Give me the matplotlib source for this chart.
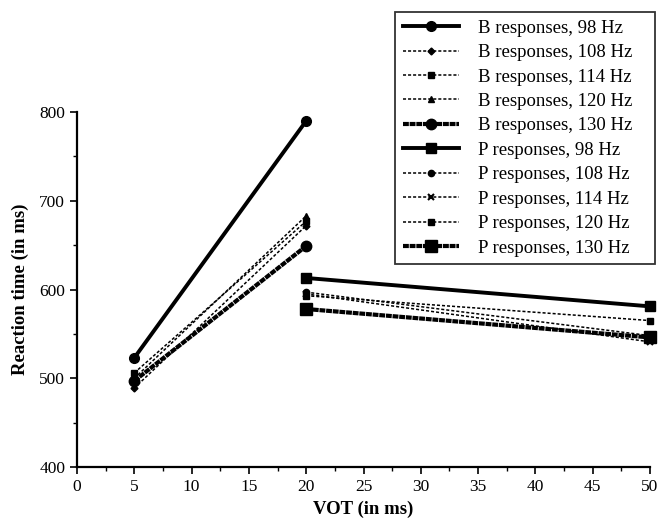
import matplotlib
matplotlib.use("Agg")
import matplotlib.pyplot as plt
from matplotlib.ticker import MultipleLocator

plt.rcParams['font.family'] = ['Liberation Serif', 'DejaVu Serif']

vot_b = [5, 20]
vot_p = [20, 50]

labels = ["B responses, 98 Hz", "B responses, 108 Hz", "B responses, 114 Hz",
          "B responses, 120 Hz", "B responses, 130 Hz",
          "P responses, 98 Hz", "P responses, 108 Hz", "P responses, 114 Hz",
          "P responses, 120 Hz", "P responses, 130 Hz"]

b_98 = [523, 790]
b_108 = [489, 672]
b_114 = [506, 677]
b_120 = [500, 683]
b_130 = [497, 649]

p_98 = [613, 581]
p_108 = [597, 548]
p_114 = [595, 541]
p_120 = [593, 565]
p_130 = [578, 546]

x_ticks = [0, 5, 10, 15, 20, 25, 30, 35, 40, 45, 50]
y_ticks = [400, 500, 600, 700, 800]

fig = plt.figure(figsize=(6.6, 5.21), dpi=100)
ax = fig.add_axes([77/660, 54/521, 573/660, 355/521])

thick = dict(color='black', lw=2.8)
thin = dict(color='black', lw=1.1, ls=(0, (2.0, 1.3)))
hatch = dict(color='black', lw=3.0, ls=(0, (1.4, 0.2)))

series = [
    (vot_b, b_98, dict(thick, marker='o', ms=7)),
    (vot_b, b_108, dict(thin, marker='D', ms=3.5)),
    (vot_b, b_114, dict(thin, marker='s', ms=4)),
    (vot_b, b_120, dict(thin, marker='^', ms=5)),
    (vot_b, b_130, dict(hatch, marker='o', ms=7.5)),
    (vot_p, p_98, dict(thick, marker='s', ms=7)),
    (vot_p, p_108, dict(thin, marker='o', ms=4.5)),
    (vot_p, p_114, dict(thin, marker='x', ms=5, mew=1.5)),
    (vot_p, p_120, dict(thin, marker='s', ms=4.5)),
    (vot_p, p_130, dict(hatch, marker='s', ms=8)),
]

handles = []
for (xs, ys, st), lab in zip(series, labels):
    h, = ax.plot(xs, ys, label=lab, **st)
    h.set_clip_on(False)
    handles.append(h)

ax.set_xlim(0, 50)
ax.set_ylim(400, 800)
ax.set_xticks(x_ticks)
ax.set_yticks(y_ticks)
ax.xaxis.set_minor_locator(MultipleLocator(2.5))
ax.yaxis.set_minor_locator(MultipleLocator(50))
ax.tick_params(which='major', direction='out', length=5, width=1.2, labelsize=12.5)
ax.tick_params(which='minor', direction='out', length=3, width=1)
ax.spines['top'].set_visible(False)
ax.spines['right'].set_visible(False)
ax.spines['left'].set_linewidth(1.6)
ax.spines['bottom'].set_linewidth(1.6)

ax.set_xlabel("VOT (in ms)", fontsize=13.5, fontweight='bold', labelpad=4)
ax.set_ylabel("Reaction time (in ms)", fontsize=13.5, fontweight='bold', labelpad=7)

leg_w = 260 / 660
leg_h = 256 / 521
leg = fig.legend(handles=handles, loc='upper left', mode='expand',
                 bbox_to_anchor=(395/660, 1 - 12/521 - leg_h, leg_w, leg_h),
                 fontsize=13.5,
                 frameon=True, fancybox=False, edgecolor='black',
                 handlelength=3.0, labelspacing=0.39, borderpad=0.4,
                 handletextpad=1.05, borderaxespad=0)
leg.get_frame().set_linewidth(1.3)

fig.savefig("out.png", dpi=100)
